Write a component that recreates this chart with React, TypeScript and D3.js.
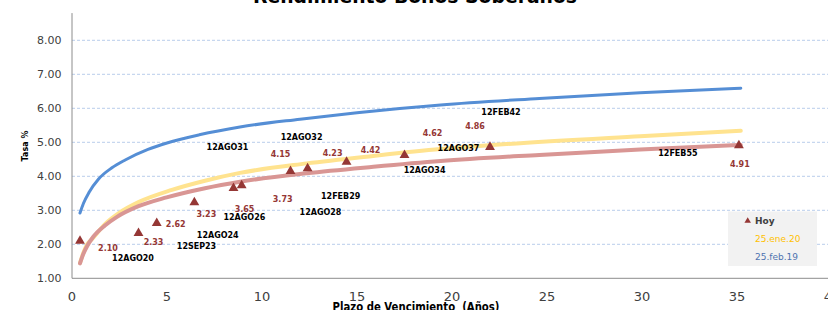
import React from "react";
import * as d3 from "d3";

// Hoy (today) bond yields
const bondNames = ["12AGO20", "12SEP23", "12AGO24", "12AGO26", "12AGO28", "12FEB29", "12AGO31", "12AGO32", "12AGO34", "12AGO37", "12FEB42", "12FEB55"];
const bondTerms = [0.42, 3.5, 4.46, 6.44, 8.5, 8.93, 11.5, 12.4, 14.45, 17.5, 22.0, 35.1];
const bondRates = [2.10, 2.33, 2.62, 3.23, 3.65, 3.73, 4.15, 4.23, 4.42, 4.62, 4.86, 4.91];

// label placement (pixel offsets from the marker)
const nameOffsets: [number, number][] = [[53, 17], [58, 13], [61, 12], [50, 15], [87, 24], [99, 11], [-63, -24], [-6, -31], [78, 8], [54, -7], [11, -35], [-61, 8]];
const valueOffsets: [number, number][] = [[28, 7], [15, 9], [19, 1], [12, 12], [11, 21], [41, 14], [-10, -17], [25, -15], [24, -12], [28, -22], [-15, -21], [1, 19]];

// 25.feb.19 curve
const feb19X = [0.42, 0.6, 0.9, 1.4, 2.1, 2.8, 4.0, 5.0, 6.7, 8.84, 12.0, 15.0, 19.4, 24.6, 29.9, 35.2];
const feb19Y = [2.92, 3.2, 3.53, 3.92, 4.25, 4.48, 4.79, 4.98, 5.22, 5.45, 5.68, 5.87, 6.10, 6.29, 6.46, 6.59];

// 25.ene.20 curve
const ene20X = [0.42, 0.6, 0.8, 1.05, 1.75, 2.5, 3.5, 5.26, 7.0, 8.84, 12.35, 15.86, 19.4, 22.9, 29.9, 35.2];
const ene20Y = [1.45, 1.75, 2.0, 2.15, 2.6, 2.93, 3.24, 3.6, 3.87, 4.1, 4.38, 4.6, 4.8, 4.95, 5.18, 5.34];

// Hoy trend curve
const hoyX = [0.42, 0.6, 0.8, 1.12, 1.75, 2.35, 3.5, 4.98, 7.0, 8.84, 12.35, 15.86, 19.4, 24.6, 29.9, 35.2];
const hoyY = [1.44, 1.72, 1.95, 2.22, 2.56, 2.8, 3.12, 3.38, 3.65, 3.84, 4.09, 4.28, 4.45, 4.63, 4.79, 4.92];

const xTicks = [0, 5, 10, 15, 20, 25, 30, 35, 40];
const yTicks = [1, 2, 3, 4, 5, 6, 7, 8];

const title = "Rendimiento Bonos Soberanos";
const xTitle = "Plazo de Vencimiento  (Años)";
const yTitle = "Tasa %";
const legendLabels = ["Hoy", "25.ene.20", "25.feb.19"];

const FONT = "'DejaVu Sans', Verdana, sans-serif";

export default function App() {
  const x = d3.scaleLinear().domain([0, 40]).range([72, 832]);
  const y = d3.scaleLinear().domain([1, 8.8]).range([278.3, 13.1]);

  const line = d3
    .line<[number, number]>()
    .x((d) => x(d[0]))
    .y((d) => y(d[1]))
    .curve(d3.curveMonotoneX);

  const zip = (xs: number[], ys: number[]) => xs.map((v, i) => [v, ys[i]] as [number, number]);

  const tri = d3.symbol().type(d3.symbolTriangle).size(42)() as string;
  const triSmall = d3.symbol().type(d3.symbolTriangle).size(18)() as string;

  const red = "#953735";

  return (
    <svg
      width={828}
      height={310}
      style={{ position: "absolute", left: 0, top: 0, background: "#fff" }}
      fontFamily={FONT}
    >
      <rect x={0} y={0} width={828} height={310} fill="#fff" />
      {/* grid */}
      {yTicks.filter((t) => t > 1).map((t) => (
        <line key={t} x1={72} x2={828} y1={y(t)} y2={y(t)} stroke="#B9CDEB" strokeWidth={1} strokeDasharray="3,2" />
      ))}
      {/* axes */}
      <line x1={72} x2={72} y1={y(8.8)} y2={y(1)} stroke="#8C8C8C" strokeWidth={1} />
      <line x1={72} x2={828} y1={y(1)} y2={y(1)} stroke="#8C8C8C" strokeWidth={1} />
      {yTicks.map((t) => (
        <text key={t} x={61.5} y={y(t)} dy="0.36em" textAnchor="end" fontSize={11} fill="#404040">
          {t.toFixed(2)}
        </text>
      ))}
      {xTicks.map((t) => (
        <text key={t} x={x(t)} y={301} textAnchor="middle" fontSize={13} fill="#404040">
          {t}
        </text>
      ))}
      {/* titles */}
      <text x={415} y={3} textAnchor="middle" fontSize={20} fontWeight="bold" fill="#000" textLength={324} lengthAdjust="spacingAndGlyphs">
        {title}
      </text>
      <text x={416} y={311} textAnchor="middle" fontSize={12} fontWeight="bold" fill="#000" textLength={167} lengthAdjust="spacingAndGlyphs" style={{ whiteSpace: "pre" }}>
        {xTitle}
      </text>
      <text transform="translate(28,146) rotate(-90)" textAnchor="middle" fontSize={8} fontWeight="bold" fill="#000">
        {yTitle}
      </text>
      {/* curves */}
      <path d={line(zip(feb19X, feb19Y)) || ""} fill="none" stroke="#558ED5" strokeWidth={3} strokeLinecap="round" />
      <path d={line(zip(ene20X, ene20Y)) || ""} fill="none" stroke="#FFE38F" strokeWidth={4} strokeLinecap="round" />
      <path d={line(zip(hoyX, hoyY)) || ""} fill="none" stroke="#D99694" strokeWidth={4} strokeLinecap="round" />
      {/* markers */}
      {bondTerms.map((t, i) => (
        <path key={i} d={tri} transform={`translate(${x(t)},${y(bondRates[i])})`} fill={red} />
      ))}
      {bondTerms.map((t, i) => (
        <text
          key={"v" + i}
          x={x(t) + valueOffsets[i][0]}
          y={y(bondRates[i]) + valueOffsets[i][1]}
          dy="0.35em"
          textAnchor="middle"
          fontSize={8}
          fontWeight="bold"
          fill={red}
        >
          {bondRates[i].toFixed(2)}
        </text>
      ))}
      {bondTerms.map((t, i) => (
        <text
          key={"n" + i}
          x={x(t) + nameOffsets[i][0]}
          y={y(bondRates[i]) + nameOffsets[i][1]}
          dy="0.35em"
          textAnchor="middle"
          fontSize={8}
          fontWeight="bold"
          fill="#000"
        >
          {bondNames[i]}
        </text>
      ))}
      {/* legend */}
      <rect x={728} y={211.5} width={89} height={54.5} fill="#F2F2F2" />
      <path d={triSmall} transform="translate(747.7,221)" fill={red} />
      <text x={755} y={221} dy="0.35em" fontSize={9} fontWeight="bold" fill="#404040">{legendLabels[0]}</text>
      <text x={755} y={239} dy="0.35em" fontSize={9} fill="#FFC000">{legendLabels[1]}</text>
      <text x={755} y={257} dy="0.35em" fontSize={9} fill="#4F73B0">{legendLabels[2]}</text>
    </svg>
  );
}
